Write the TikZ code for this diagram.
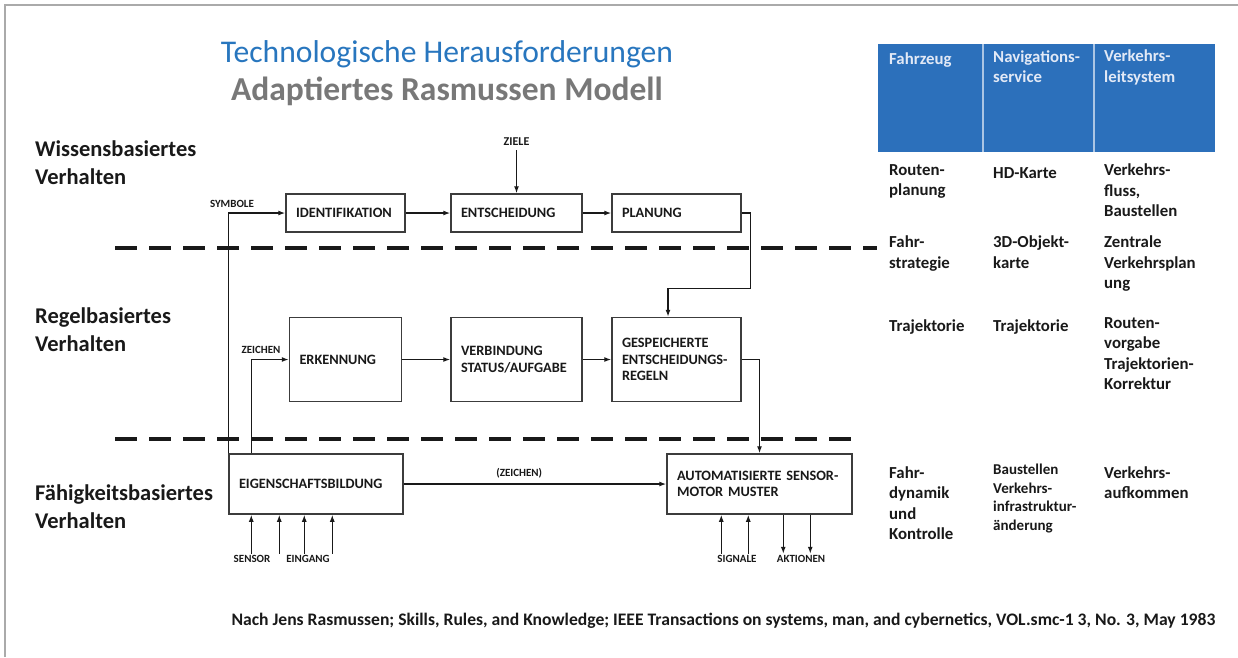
\documentclass[tikz,border=0pt]{standalone}
\usepackage{fontspec}
\setmainfont{Carlito}
\usepackage{tikz}
\usetikzlibrary{calc,positioning,arrows.meta}
\definecolor{titleblue}{RGB}{40,118,190}
\definecolor{titlegray}{RGB}{120,120,120}
\definecolor{headblue}{RGB}{44,112,187}
\definecolor{headtext}{RGB}{226,233,246}
\definecolor{framegray}{RGB}{170,170,170}
\definecolor{boxgray}{RGB}{60,60,60}
\definecolor{ink}{RGB}{25,25,25}
\tikzset{%
  >={Latex[length=7pt,width=5pt]},
  flow box/.style={draw=boxgray,line width=1.5pt,rectangle,align=left,inner xsep=10pt,inner ysep=0pt,text=ink,
    font=\fontsize{14.3}{16.5}\selectfont\bfseries},
  flow line/.style={draw=ink,line width=1.3pt},
  tag/.style={inner sep=1pt,text=ink,font=\fontsize{11}{13}\selectfont\bfseries},
  level line/.style={draw=ink,line width=3.5pt,dash pattern=on 22pt off 12pt},
  level name/.style={anchor=north west,inner sep=0pt,align=left,text=ink,
    font=\fontsize{22.5}{28}\selectfont\bfseries,execute at begin node=\strut},
  cell/.style={anchor=north west,inner sep=0pt,align=left,text=ink,
    font=\fontsize{16.8}{20.5}\selectfont\bfseries,execute at begin node=\strut}
}
\begin{document}
\begin{tikzpicture}[x=1pt,y=-1pt]
	\useasboundingbox (0,0) rectangle (1238,657);
	\draw[framegray,line width=2.5pt] (5,657) -- (5,5) -- (1238,5);
	
	\node[anchor=base,text=titleblue,font=\fontsize{31.6}{36}\selectfont] (titel) at (447,62) {Technologische Herausforderungen};
	\node[anchor=base,text=titlegray,font=\fontsize{33.5}{38}\selectfont\bfseries] (untertitel) at (447,100) {Adaptiertes Rasmussen Modell};
	
	\node[level name] (wissen) at (35,141) {Wissensbasiertes\\Verhalten};
	\node[level name] (regel) at (35,308) {Regelbasiertes\\Verhalten};
	\node[level name] (faehig) at (35,484) {Fähigkeitsbasiertes\\Verhalten};
	
	\draw[level line] (115,248) -- (877,248);
	\draw[level line] (115,439) -- (852,439);
	
	\begin{scope}[every node/.style={flow box}]
	\node[text width=99pt,minimum height=38pt] (ident) at (345.5,213) {IDENTIFIKATION};
	\node[text width=111pt,minimum height=38pt] (entsch) at (516.5,213) {ENTSCHEIDUNG};
	\node[text width=109pt,minimum height=38pt] (planung) at (676.5,213) {PLANUNG};
	\node[text width=92pt,minimum height=84pt,below=84pt of ident] (erkenn) {ERKENNUNG};
	\node[text width=111pt,minimum height=84pt,below=84pt of entsch] (verbind) {VERBINDUNG\\STATUS/AUFGABE};
	\node[text width=109pt,minimum height=84pt,below=84pt of planung] (gespeich) {GESPEICHERTE\\ENTSCHEIDUNGS-\\REGELN};
	\node[text width=154pt,minimum height=60pt] (eigensch) at (316,484) {EIGENSCHAFTSBILDUNG};
	\node[text width=165pt,minimum height=60pt] (automat) at (759.5,484) {AUTOMATISIERTE SENSOR-\\MOTOR MUSTER};
	\end{scope}
	
	\begin{scope}[every node/.style={tag}]
	\node (symbole) at (232,204) {SYMBOLE};
	\node (zeichen) at (261,350) {ZEICHEN};
	\node[inner sep=4pt,font=\fontsize{12}{14}\selectfont\bfseries] (ziele) at (516.5,142) {ZIELE};
	\node (sensor) at (252,559) {SENSOR};
	\node (eingang) at (308,559) {EINGANG};
	\node (signale) at (737,559) {SIGNALE};
	\node (aktionen) at (801,559) {AKTIONEN};
	\end{scope}
	
	\begin{scope}[flow line]
	\draw[->] (eigensch.north west) |- (ident.west);
	\draw[->] ($(eigensch.north west)+(23,0)$) |- (erkenn.west);
	\draw[->] (ziele) -- (entsch);
	\draw[->] (ident) -- (entsch);
	\draw[->] (entsch) -- (planung);
	\draw[->] (erkenn) -- (verbind);
	\draw[->] (verbind) -- (gespeich);
	\draw[->] (planung.east) -- ++(9,0) |- ($(gespeich.north)+(-8.5,-28)$) -- ($(gespeich.north)+(-8.5,0)$);
	\draw[->] (gespeich.east) -| (automat.north);
	\draw[->] (eigensch) -- node[tag,above=4pt,pos=.44] (zeichen2) {(ZEICHEN)} (automat);
	\foreach \dx [count=\i] in {23,51,76,104}{
		\coordinate (ein\i) at ($(eigensch.south west)+(\dx,39)$);
		\draw[->] (ein\i) -- (ein\i |- eigensch.south);
	}
	\foreach \dx [count=\i] in {55,82}{
		\coordinate (sig\i) at ($(automat.south west)+(\dx,39)$);
		\draw[->] (sig\i) -- (sig\i |- automat.south);
	}
	\foreach \dx [count=\i] in {117,144}{
		\coordinate (akt\i) at ($(automat.south west)+(\dx,39)$);
		\draw[->] (akt\i |- automat.south) -- (akt\i);
	}
	\end{scope}
	
	\fill[headblue] (878,44) rectangle (1215,152);
	\draw[headtext!70!headblue,line width=1.5pt] (983,44) -- (983,152) (1094,44) -- (1094,152);
	\begin{scope}[every node/.append style={cell}]
	\node[text=headtext] (kopf1) at (889,50) {Fahrzeug};
	\node[text=headtext] (kopf2) at (993,50) {Navigations-\\service};
	\node[text=headtext] (kopf3) at (1104,50) {Verkehrs-\\leitsystem};
	\node (route1) at (889,164) {Routen-\\planung};
	\node (route2) at (993,164) {HD-Karte};
	\node (route3) at (1104,164) {Verkehrs-\\fluss,\\Baustellen};
	\node (strat1) at (889,236) {Fahr-\\strategie};
	\node (strat2) at (993,236) {3D-Objekt-\\karte};
	\node (strat3) at (1104,236) {Zentrale\\Verkehrsplan\\ung};
	\node (traj1) at (889,317) {Trajektorie};
	\node (traj2) at (993,317) {Trajektorie};
	\node (traj3) at (1104,317) {Routen-\\vorgabe\\Trajektorien-\\Korrektur};
	\node (dyn1) at (889,466) {Fahr-\\dynamik\\und\\Kontrolle};
	\node[font=\fontsize{15}{18.7}\selectfont\bfseries] (dyn2) at (993,463.6) {Baustellen\\Verkehrs-\\infrastruktur-\\änderung};
	\node (dyn3) at (1104,466) {Verkehrs-\\aufkommen};
	\end{scope}
	
	\node[anchor=base west,text=ink,font=\fontsize{17.6}{21}\selectfont\bfseries] (quelle) at (228,625) {Nach Jens Rasmussen; Skills, Rules, and Knowledge; IEEE Transactions on systems, man, and cybernetics, VOL.smc-1 3, No. 3, May 1983};
\end{tikzpicture}
\end{document}
